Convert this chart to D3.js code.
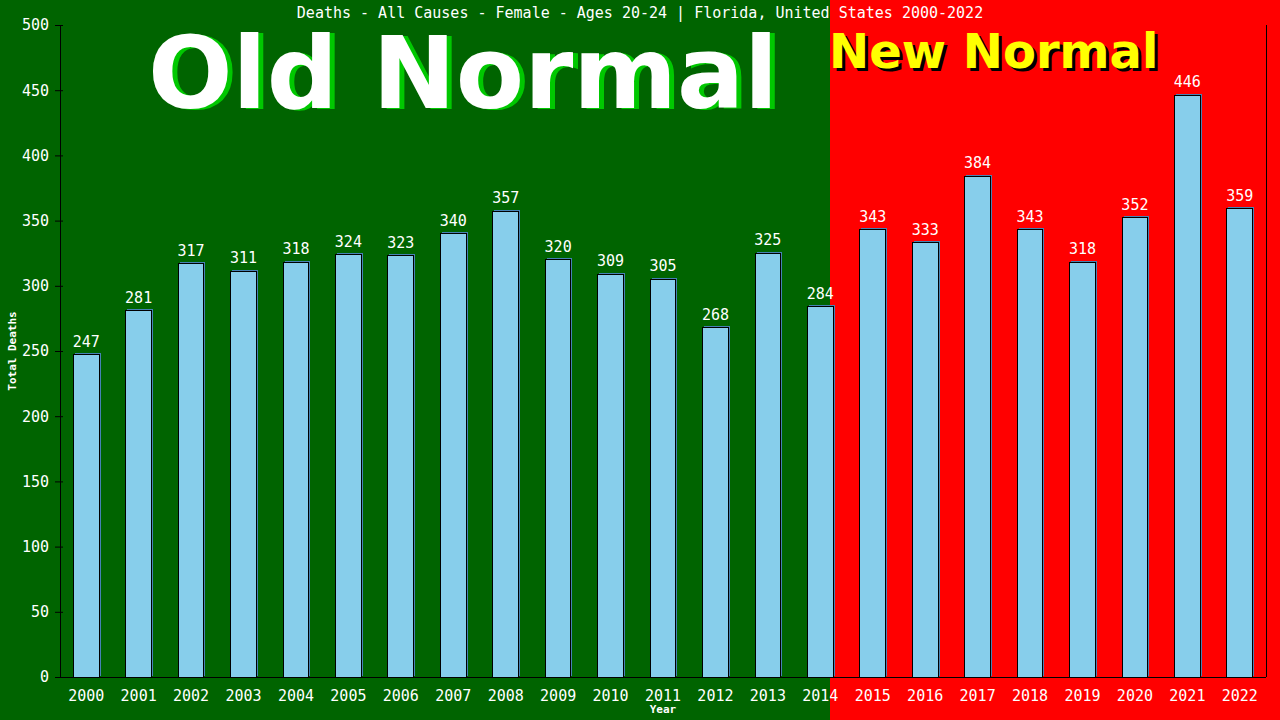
<!DOCTYPE html>
<html>
<head>
<meta charset="utf-8">
<script src="https://cdn.jsdelivr.net/npm/d3@7"></script>
<style>
html,body{margin:0;padding:0;background:#006400;}
svg{display:block;}
</style>
</head>
<body>
<svg id="chart" width="1280" height="720"></svg>
<script>
const years = ["2000","2001","2002","2003","2004","2005","2006","2007","2008","2009","2010","2011","2012","2013","2014","2015","2016","2017","2018","2019","2020","2021","2022"];
const deaths = [247,281,317,311,318,324,323,340,357,320,309,305,268,325,284,343,333,384,343,318,352,446,359];
const yTicks = [0,50,100,150,200,250,300,350,400,450,500];
const titleText = "Deaths - All Causes - Female - Ages 20-24 | Florida, United States 2000-2022";
const oldLabel = "Old Normal";
const newLabel = "New Normal";
const xTitle = "Year";
const yTitle = "Total Deaths";

const W = 1280, H = 720;
const m = {left:60, right:1266, top:25, bottom:677};
const split = 830;
const mono = "'DejaVu Sans Mono', monospace";

const svg = d3.select("#chart");

// backgrounds
svg.append("rect").attr("x",0).attr("y",0).attr("width",split).attr("height",H).attr("fill","#006400");
svg.append("rect").attr("x",split).attr("y",0).attr("width",W-split).attr("height",H).attr("fill","#ff0000");

const x = d3.scaleBand().domain(years).range([m.left, m.right]).padding(0);
const y = d3.scaleLinear().domain([0,500]).range([m.bottom, m.top]);
const bw = x.step()*0.49;

// big labels
const oldG = svg.append("g").attr("font-family","'DejaVu Sans', sans-serif").attr("font-weight","bold").attr("font-size",99.5);
oldG.append("text").attr("x",153).attr("y",109).attr("fill","#00c800").text(oldLabel);
oldG.append("text").attr("x",148).attr("y",108).attr("fill","#ffffff").text(oldLabel);

const newG = svg.append("g").attr("font-family","'DejaVu Sans', sans-serif").attr("font-weight","bold").attr("font-size",48);
newG.append("text").attr("x",832).attr("y",71).attr("fill","#000000").text(newLabel);
newG.append("text").attr("x",829).attr("y",68).attr("fill","#ffff00").text(newLabel);

// title
svg.append("text").attr("x",640).attr("y",18).attr("text-anchor","middle")
  .attr("font-family",mono).attr("font-size",15).attr("fill","#fff").text(titleText);

// bars
const bars = svg.append("g").attr("shape-rendering","crispEdges");
const data = years.map((yr,i)=>({yr, v:deaths[i]}));
bars.selectAll("rect.sh").data(data).enter().append("rect").attr("class","sh")
  .attr("x",d=>x(d.yr)+x.bandwidth()/2-bw/2+1.5)
  .attr("y",d=>y(d.v)-1.5)
  .attr("width",bw).attr("height",d=>y(0)-y(d.v))
  .attr("fill","#4682b4");
bars.selectAll("rect.bar").data(data).enter().append("rect").attr("class","bar")
  .attr("x",d=>x(d.yr)+x.bandwidth()/2-bw/2)
  .attr("y",d=>y(d.v))
  .attr("width",bw).attr("height",d=>y(0)-y(d.v))
  .attr("fill","#87ceeb").attr("stroke","#000").attr("stroke-width",1);

// value labels
svg.append("g").selectAll("text").data(data).enter().append("text")
  .attr("x",d=>x(d.yr)+x.bandwidth()/2)
  .attr("y",d=>y(d.v)-8)
  .attr("text-anchor","middle").attr("font-family",mono).attr("font-size",15).attr("fill","#fff")
  .text(d=>d.v);

// axes
const yAxis = d3.axisLeft(y).tickValues(yTicks).tickSize(5).tickPadding(6);
const gy = svg.append("g").attr("transform",`translate(${m.left},0)`).call(yAxis);
gy.select(".domain").remove();
gy.selectAll(".tick line").attr("stroke","#000").attr("x2",-5).attr("x1",3);
gy.selectAll(".tick text").attr("fill","#fff").attr("font-family",mono).attr("font-size",15).attr("x",-11);

const xAxis = d3.axisBottom(x).tickSize(0).tickPadding(13);
const gx = svg.append("g").attr("transform",`translate(0,${m.bottom})`).call(xAxis);
gx.select(".domain").remove();
gx.selectAll(".tick text").attr("fill","#fff").attr("font-family",mono).attr("font-size",15);

const frame = svg.append("g").attr("stroke","#000").attr("stroke-width",1).attr("shape-rendering","crispEdges");
frame.append("line").attr("x1",m.left).attr("x2",m.left).attr("y1",m.top).attr("y2",m.bottom);
frame.append("line").attr("x1",m.left-5).attr("x2",m.right).attr("y1",m.bottom).attr("y2",m.bottom);
frame.append("line").attr("x1",m.right).attr("x2",m.right).attr("y1",m.top).attr("y2",m.bottom);

// axis titles
svg.append("text").attr("x",(m.left+m.right)/2).attr("y",713).attr("text-anchor","middle")
  .attr("font-family",mono).attr("font-weight","bold").attr("font-size",11).attr("fill","#fff").text(xTitle);
svg.append("text").attr("transform",`translate(16,${(m.top+m.bottom)/2}) rotate(-90)`).attr("text-anchor","middle")
  .attr("font-family",mono).attr("font-weight","bold").attr("font-size",11).attr("fill","#fff").text(yTitle);
</script>
</body>
</html>
